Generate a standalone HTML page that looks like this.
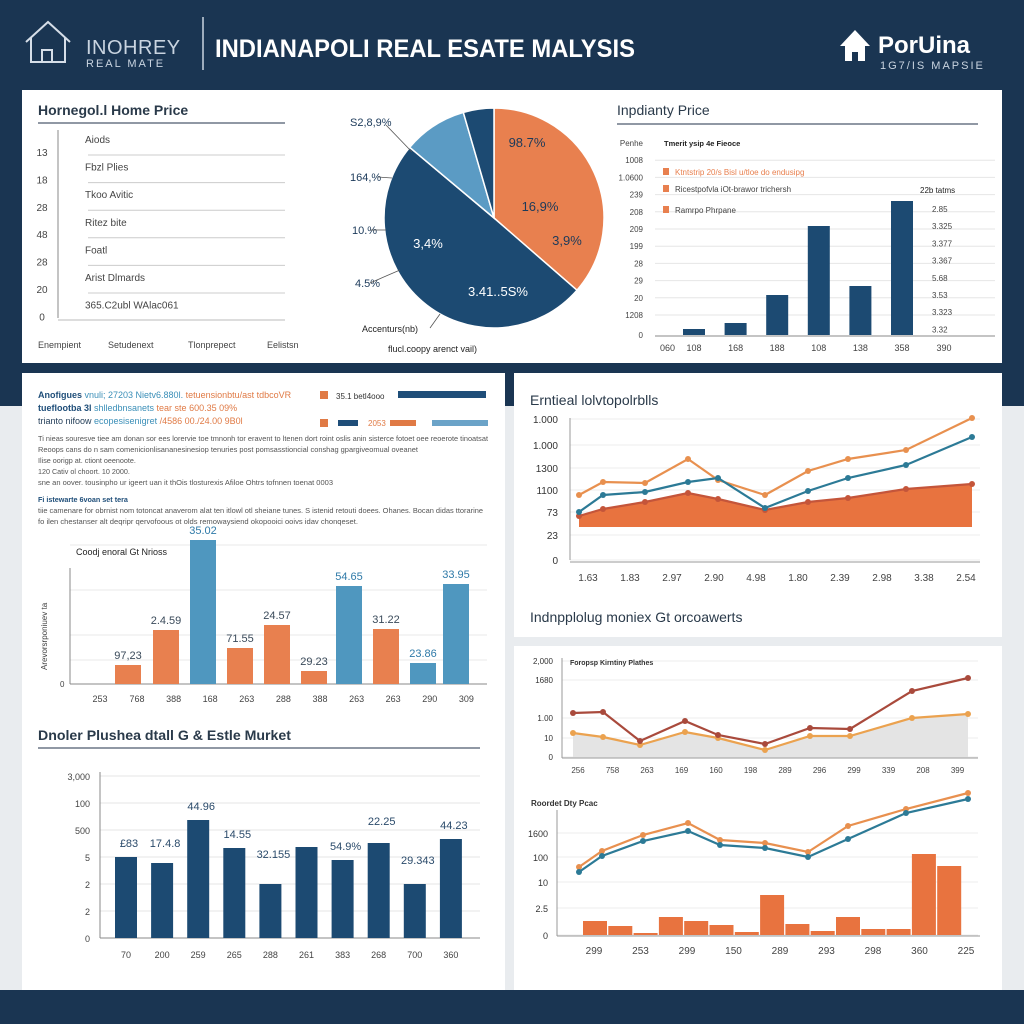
<!DOCTYPE html>
<html><head><meta charset="utf-8"><style>
html,body{margin:0;padding:0;width:1024px;height:1024px;overflow:hidden;background:#e9ecef;font-family:"Liberation Sans",sans-serif}
svg text{font-family:"Liberation Sans",sans-serif}
</style></head><body>
<svg id="s" width="1024" height="1024" viewBox="0 0 1024 1024" xmlns="http://www.w3.org/2000/svg">
<rect x="0" y="0" width="1024" height="1024" fill="#e9ecef"/>
<rect x="0" y="0" width="1024" height="406" fill="#1a3552"/>
<rect x="0" y="990" width="1024" height="34" fill="#1a3552"/>
<g fill="none" stroke="#d6dee8" stroke-width="2">
<path d="M26 42 L48 22 L70 42 M31 38 V62 H65 V38 M42 62 V50 H52 V62"/>
</g>
<text x="86" y="54" font-size="20" fill="#c9d4e0" letter-spacing="0.5">INOHREY</text>
<text x="86" y="67" font-size="11" fill="#c9d4e0" letter-spacing="2">REAL MATE</text>
<line x1="203" y1="17" x2="203" y2="70" stroke="#c9d4e0" stroke-width="1.5"/>
<text x="215" y="57" font-size="25" font-weight="bold" fill="#ffffff" textLength="420" lengthAdjust="spacingAndGlyphs">INDIANAPOLI REAL ESATE MALYSIS</text>
<g fill="#ffffff"><path d="M840 46 L855 30 L870 46 H865 V61 H858 V52 H852 V61 H845 V46Z"/></g>
<text x="878" y="53" font-size="24" font-weight="bold" fill="#ffffff">PorUina</text>
<text x="880" y="69" font-size="11" fill="#c9d4e0" letter-spacing="2">1G7/IS MAPSIE</text>

<rect x="22" y="90" width="980" height="273" fill="#ffffff"/>
<rect x="22" y="373" width="483" height="617" fill="#ffffff"/>
<rect x="514" y="373" width="488" height="264" fill="#ffffff"/>
<rect x="514" y="646" width="488" height="344" fill="#ffffff"/>

<text x="38" y="115" font-size="14" font-weight="bold" fill="#2a3a4a">Hornegol.l Home Price</text>
<line x1="38" y1="123" x2="285" y2="123" stroke="#6b7785" stroke-width="1.5"/>
<line x1="58" y1="130" x2="58" y2="318" stroke="#888"/>
<g id="tbl"></g>

<g id="pie"></g>

<text x="617" y="115" font-size="14" fill="#2a3a4a">Inpdianty Price</text>
<line x1="617" y1="124" x2="978" y2="124" stroke="#6b7785" stroke-width="1.5"/>
<g id="chartA"></g>

<g font-size="9">
<text x="38" y="398" fill="#1f4e79"><tspan font-weight="bold">Anofigues</tspan><tspan fill="#3b8fb8"> vnuli; 27203 Nietv6.880l.</tspan><tspan fill="#e07a45"> tetuensionbtu/ast tdbcoVR</tspan></text>
<text x="38" y="411" fill="#1f4e79"><tspan font-weight="bold">tueflootba 3l</tspan><tspan fill="#3b8fb8"> shlledbnsanets</tspan><tspan fill="#e07a45"> tear ste 600.35 09%</tspan></text>
<text x="38" y="424" fill="#1f3a55">trianto nifoow<tspan fill="#3b8fb8"> ecopesisenigret</tspan><tspan fill="#e07a45"> /4586 00./24.00 9B0l</tspan></text>
<rect x="320" y="391" width="8" height="8" fill="#e07a45"/><text x="336" y="399" font-size="8" fill="#333">35.1 betl4ooo</text>
<rect x="398" y="391" width="88" height="7" fill="#1f4e79"/>
<rect x="320" y="419" width="8" height="8" fill="#e07a45"/><rect x="338" y="420" width="20" height="6" fill="#1f4e79"/>
<text x="368" y="426" font-size="8" fill="#e07a45">2053</text><rect x="390" y="420" width="26" height="6" fill="#e07a45"/>
<rect x="432" y="420" width="56" height="6" fill="#6ba3c8"/>
<g fill="#555" font-size="7.2">
<text x="38" y="441" textLength="450" lengthAdjust="spacingAndGlyphs">Ti nieas souresve tiee am donan sor ees lorervie toe tmnonh tor eravent to ltenen dort roint oslis anin sisterce fotoet oee reoerote tinoatsat</text>
<text x="38" y="452" textLength="380" lengthAdjust="spacingAndGlyphs">Reoops cans do n sam comenicionlisananesinesiop tenuries post pomsasstioncial conshag gpargiveomual oveanet</text>
<text x="38" y="463">Ilise oorigp at. ctiont oeenoote.</text>
<text x="38" y="474">120 Cativ ol choort. 10 2000.</text>
<text x="38" y="485" textLength="295" lengthAdjust="spacingAndGlyphs">sne an oover. tousinpho ur igeert uan it thOis tlosturexis Afiloe Ohtrs tofnnen toenat 0003</text>
<text x="38" y="502" font-weight="bold" fill="#1f4e79">Fi istewarte 6voan set tera</text>
<text x="38" y="513" textLength="445" lengthAdjust="spacingAndGlyphs">tiie camenare for obrnist nom totoncat anaverom alat ten itlowl otl sheiane tunes. S istenid retouti doees. Ohanes. Bocan didas ttorarine</text>
<text x="38" y="524" textLength="320" lengthAdjust="spacingAndGlyphs">fo ilen chestanser alt deqripr qervofoous ot olds remowaysiend okopooici ooivs idav chonqeset.</text>
</g>
</g>
<g id="chartB"></g>

<text x="38" y="740" font-size="14" font-weight="bold" fill="#2a3a4a" textLength="253" lengthAdjust="spacingAndGlyphs">Dnoler Plushea dtall G &amp; Estle Murket</text>
<line x1="38" y1="748" x2="480" y2="748" stroke="#6b7785" stroke-width="1.5"/>
<g id="chartC"></g>

<text x="530" y="405" font-size="14" fill="#2a3a4a">Erntieal lolvtopolrblls</text>
<g id="chartD"></g>
<text x="530" y="622" font-size="14" fill="#2a3a4a">Indnpplolug moniex Gt orcoawerts</text>
<g id="chartE"></g>
<text x="531" y="806" font-size="8" font-weight="bold" fill="#333">Roordet Dty Pcac</text>
<g id="chartF"></g>
</svg>
<script>
const tableLabels = ["Aiods","Fbzl Plies","Tkoo Avitic","Ritez bite","Foatl","Arist Dlmards","365.C2ubl WAlac061"];
const tableTicks = ["13","18","28","48","28","20","0"];
const tableFooter = ["Enempient","Setudenext","Tlonprepect","Eelistsn"];

const pieValues = [36.4, 49.7, 9.4, 4.5];
const pieColors = ["#e8804f","#1c4a72","#5b9bc4","#1c4a72"];
const pieInLabels = ["98.7%","16,9%","3,9%","3,4%","3.41..5S%"];
const pieOutLabels = ["S2,8,9%","164,%","10.%","4.5%"];

const aCats = ["108","168","188","108","138","358"];
const aValues = [6, 12, 40, 109, 49, 134];
const aLeftTicks = ["Penhe","1008","1.0600","239","208","209","199","28","29","20","1208","0"];
const aRightTicks = ["2.85","3.325","3.377","3.367","5.68","3.53","3.323","3.32"];
const aLegend = ["Ktntstrip 20/s Bisl u/tloe do endusipg","Ricestpofvla iOt-brawor trichersh","Ramrpo Phrpane"];

const bCats = ["768","388","168","263","288","388","263","263","290","309"];
const bValues = [19, 54, 144, 36, 59, 13, 98, 55, 21, 100];
const bSeries = ["o","o","b","o","o","o","b","o","b","b"];
const bLabels = ["97,23","2.4.59","35.02","71.55","24.57","29.23","54.65","31.22","23.86","33.95"];

const cCats = ["70","200","259","265","288","261","383","268","700","360"];
const cValues = [81, 75, 118, 90, 54, 91, 78, 95, 54, 99];
const cLabels = ["£83","17.4.8","44.96","14.55","32.155","","54.9%","22.25","29.343","44.23"];
const cTicks = ["3,000","100","500","5","2","2","0"];

const dCats = ["1.63","1.83","2.97","2.90","4.98","1.80","2.39","2.98","3.38","2.54"];
const dOrange = [63, 76, 75, 99, 78, 63, 87, 99, 108, 140];
const dBlue = [46, 63, 66, 76, 80, 50, 67, 80, 93, 121];
const dRed = [42, 49, 56, 65, 59, 48, 56, 60, 69, 74];
const dTicks = ["1.000","1.000","1300","1100","73","23","0"];

const eCats = ["256","758","263","169","160","198","289","296","299","339","208","399"];
const eRed = [44, 45, 16, 36, 22, 13, 29, 28, 66, 79];
const eOrange = [24, 20, 12, 25, 19, 7, 21, 21, 39, 43];
const eTicks = ["2,000","1680","1.00","10","0"];

const fCats = ["299","253","299","150","289","293","298","360","225"];
const fOrange = [68, 84, 100, 112, 95, 92, 83, 109, 126, 142];
const fBlue = [63, 79, 94, 104, 90, 87, 78, 96, 122, 136];
const fBars = [14, 9, 2, 18, 14, 10, 3, 40, 11, 4, 18, 6, 6, 81, 69];
const fTicks = ["1600","100","10","2.5","0"];

const NS = "http://www.w3.org/2000/svg";
function mk(parent, tag, attrs, txt){
  const e = document.createElementNS(NS, tag);
  for (const k in attrs) e.setAttribute(k, attrs[k]);
  if (txt !== undefined) e.textContent = txt;
  parent.appendChild(e);
  return e;
}
const OR = "#e8804f", NV = "#1c4a72", LB = "#4f97bf";

(function(){
  const g = document.getElementById("tbl");
  tableLabels.forEach((t,i)=>{
    const y = 143 + i*27.6;
    const el = mk(g,"text",{x:85,y:y,"font-size":10,fill:"#444"},t);
    
    
    if (i < 6) {
      const ln = mk(g,"line",{x1:88,y1:y+12,x2:285,y2:y+12,stroke:"#ccc"});
      
      
    }
  });
  tableTicks.forEach((t,i)=>{
    const el = mk(g,"text",{x:42,y:156+i*27.4,"font-size":10,fill:"#444","text-anchor":"middle"},t);
    
    
  });
  const bl = mk(g,"line",{x1:58,y1:320,x2:285,y2:320,stroke:"#bbb"});
  
  
  tableFooter.forEach((t,i)=>{
    const el = mk(g,"text",{x:[38,108,188,267][i],y:348,"font-size":9,fill:"#444"},t);
    
    
  });
})();

(function(){
  const g = document.getElementById("pie");
  const cx=494, cy=218, r=110;
  const tot = pieValues.reduce((a,b)=>a+b,0);
  let a0 = 0;
  pieValues.forEach((v,i)=>{
    const a1 = a0 + v/tot*2*Math.PI;
    const x0 = cx + r*Math.sin(a0), y0 = cy - r*Math.cos(a0);
    const x1 = cx + r*Math.sin(a1), y1 = cy - r*Math.cos(a1);
    const large = (a1-a0) > Math.PI ? 1 : 0;
    const p = mk(g,"path",{d:`M${cx},${cy} L${x0},${y0} A${r},${r} 0 ${large} 1 ${x1},${y1} Z`,fill:pieColors[i],stroke:"#fff","stroke-width":1.5});
    
    
    a0 = a1;
  });
  const inPos = [[527,147,"#1c3a5a"],[540,211,"#1c3a5a"],[567,245,"#1c3a5a"],[428,248,"#fff"],[498,296,"#fff"]];
  pieInLabels.forEach((t,i)=>{
    const el = mk(g,"text",{x:inPos[i][0],y:inPos[i][1],"font-size":13,fill:inPos[i][2],"text-anchor":"middle"},t);
    
    
  });
  const outPos = [[350,126],[350,181],[352,234],[355,287]];
  pieOutLabels.forEach((t,i)=>{
    const el = mk(g,"text",{x:outPos[i][0],y:outPos[i][1],"font-size":11,fill:"#1c3a5a"},t);
    
    
  });
  [[386,125,412,152],[378,177,392,178],[370,230,386,230],[370,283,400,270],[430,328,440,314]].forEach(l=>{
    const ln = mk(g,"line",{x1:l[0],y1:l[1],x2:l[2],y2:l[3],stroke:"#555","stroke-width":0.8});
    
    
  });
  const a = mk(g,"text",{x:362,y:332,"font-size":9,fill:"#222"},"Accenturs(nb)");
  
  
  const b = mk(g,"text",{x:388,y:352,"font-size":9,fill:"#222"},"flucl.coopy arenct vail)");
  
  
})();

(function(){
  const g = document.getElementById("chartA");
  const base = 335, yS = v => base - v*1.0;
  aLeftTicks.forEach((t,i)=>{
    const y = 146 + i*17.2 + (i==11?3:0);
    const el = mk(g,"text",{x:643,y:y,"font-size":8,fill:"#444","text-anchor":"end"},t);
    
    
    if (i>0 && i<11){
      const ln = mk(g,"line",{x1:655,y1:y-3,x2:995,y2:y-3,stroke:"#e6e6e6"});
      
      
    }
  });
  const ax = mk(g,"line",{x1:655,y1:336,x2:995,y2:336,stroke:"#888"});
  
  
  const xS = i => 683 + i*41.6;
  aValues.forEach((v,i)=>{
    const r = mk(g,"rect",{x:xS(i),y:yS(v),width:22,height:base-yS(v),fill:NV});
    
    
  });
  const f = mk(g,"text",{x:660,y:351,"font-size":9,fill:"#444"},"060");
  
  
  aCats.forEach((t,i)=>{
    const el = mk(g,"text",{x:xS(i)+11,y:351,"font-size":9,fill:"#444","text-anchor":"middle"},t);
    
    
  });
  const l = mk(g,"text",{x:944,y:351,"font-size":9,fill:"#444","text-anchor":"middle"},"390");
  
  
  const rt = mk(g,"text",{x:920,y:193,"font-size":8,fill:"#222"},"22b tatms");
  
  
  aRightTicks.forEach((t,i)=>{
    const el = mk(g,"text",{x:932,y:212+i*17.2,"font-size":8,fill:"#444"},t);
    
    
  });
  const lt = mk(g,"text",{x:664,y:146,"font-size":7.5,"font-weight":"bold",fill:"#222"},"Tmerit ysip 4e Fieoce");
  
  
  aLegend.forEach((t,i)=>{
    const y = [175,192,213][i];
    const sq = mk(g,"rect",{x:663,y:y-7,width:6,height:7,fill:OR});
    
    
    const el = mk(g,"text",{x:675,y:y,"font-size":8,fill:i==0?OR:"#444"},t);
    
    
  });
})();

(function(){
  const g = document.getElementById("chartB");
  const base = 684, yS = v => base - v;
  [545,590,635,660].forEach(y=>{
    const ln = mk(g,"line",{x1:70,y1:y,x2:487,y2:y,stroke:"#e8e8e8"});
    
    
  });
  const ax = mk(g,"line",{x1:70,y1:568,x2:70,y2:684,stroke:"#888"});
  
  
  const xa = mk(g,"line",{x1:70,y1:684,x2:487,y2:684,stroke:"#888"});
  
  
  const z = mk(g,"text",{x:60,y:687,"font-size":8,fill:"#444"},"0");
  
  
  const yt = mk(g,"text",{x:0,y:0,"font-size":8,fill:"#444",transform:"translate(47,670) rotate(-90)"},"Arevorsrponiuev ta");
  
  
  const tt = mk(g,"text",{x:76,y:555,"font-size":9,fill:"#222"},"Coodj enoral Gt Nrioss");
  
  
  const xs = [115,153,190,227,264,301,336,373,410,443];
  bValues.forEach((v,i)=>{
    const x = xs[i];
    const r = mk(g,"rect",{x:x,y:yS(v),width:26,height:v,fill:bSeries[i]==="o"?OR:LB});
    
    
    const lab = mk(g,"text",{x:x+13,y:yS(v)-6,"font-size":11,fill:bSeries[i]==="o"?"#3a4a5a":"#2f7aa8","text-anchor":"middle"},bLabels[i]);
    
    
  });
  const f = mk(g,"text",{x:100,y:702,"font-size":9,fill:"#444","text-anchor":"middle"},"253");
  
  
  bCats.forEach((t,i)=>{
    const el = mk(g,"text",{x:137+i*36.6,y:702,"font-size":9,fill:"#444","text-anchor":"middle"},t);
    
    
  });
})();

(function(){
  const g = document.getElementById("chartC");
  const base = 938, yS = v => base - v;
  cTicks.forEach((t,i)=>{
    const y = 776 + i*27;
    const el = mk(g,"text",{x:90,y:y+4,"font-size":9,fill:"#444","text-anchor":"end"},t);
    
    
    const ln = mk(g,"line",{x1:100,y1:y,x2:480,y2:y,stroke:i==6?"#888":"#e6e6e6"});
    
    
  });
  const ax = mk(g,"line",{x1:100,y1:772,x2:100,y2:938,stroke:"#888"});
  
  
  const xS = i => 115 + i*36.1;
  const lblOff = [10,16,10,10,26,0,10,18,20,10];
  cValues.forEach((v,i)=>{
    const r = mk(g,"rect",{x:xS(i),y:yS(v),width:22,height:v,fill:NV});
    
    
    if (cLabels[i]) {
      const lab = mk(g,"text",{x:xS(i)+14,y:yS(v)-lblOff[i],"font-size":11,fill:"#2a4a6a","text-anchor":"middle"},cLabels[i]);
      
      
    }
    const el = mk(g,"text",{x:xS(i)+11,y:958,"font-size":9,fill:"#444","text-anchor":"middle"},cCats[i]);
    
    
  });
})();

function poly(g, xs, ys, color, name, marker){
  const pts = xs.map((x,i)=>x+","+ys[i]).join(" ");
  const pl = mk(g,"polyline",{points:pts,fill:"none",stroke:color,"stroke-width":2.2});
  
  
  if (marker) xs.forEach((x,i)=>{
    const c = mk(g,"circle",{cx:x,cy:ys[i],r:3,fill:color});
    
    
  });
}

(function(){
  const g = document.getElementById("chartD");
  const base = 558, yS = v => base - v;
  const xs = [579,603,645,688,718,765,808,848,906,972];
  dTicks.forEach((t,i)=>{
    const y = [419,445,468,490,512,535,560][i];
    const el = mk(g,"text",{x:558,y:y+4,"font-size":10,fill:"#333","text-anchor":"end"},t);
    
    
    const ln = mk(g,"line",{x1:570,y1:y,x2:980,y2:y,stroke:"#ececec"});
    
    
  });
  const ax = mk(g,"line",{x1:570,y1:418,x2:570,y2:560,stroke:"#999"});
  
  
  const xa = mk(g,"line",{x1:570,y1:562,x2:980,y2:562,stroke:"#999"});
  
  
  const area = "M"+xs[0]+",527 " + xs.map((x,i)=>"L"+x+","+yS(dRed[i])).join(" ") + " L"+xs[9]+",527 Z";
  const ar = mk(g,"path",{d:area,fill:"#e8733f"});
  
  
  poly(g, xs, dRed.map(yS), "#c4553a", "trend-red-line", true);
  poly(g, xs, dOrange.map(yS), "#e8904f", "trend-orange-line", true);
  poly(g, xs, dBlue.map(yS), "#2c7a96", "trend-blue-line", true);
  dCats.forEach((t,i)=>{
    const el = mk(g,"text",{x:588+i*42,y:581,"font-size":10,fill:"#444","text-anchor":"middle"},t);
    
    
  });
})();

(function(){
  const g = document.getElementById("chartE");
  const base = 757, yS = v => base - v;
  const xs = [573,603,640,685,718,765,810,850,912,968];
  eTicks.forEach((t,i)=>{
    const y = [661,680,718,738,757][i];
    const el = mk(g,"text",{x:553,y:y+3,"font-size":8,fill:"#333","text-anchor":"end"},t);
    
    
    const ln = mk(g,"line",{x1:562,y1:y,x2:978,y2:y,stroke:"#ececec"});
    
    
  });
  const ax = mk(g,"line",{x1:562,y1:658,x2:562,y2:758,stroke:"#999"});
  
  
  const xa = mk(g,"line",{x1:562,y1:758,x2:978,y2:758,stroke:"#999"});
  
  
  const tt = mk(g,"text",{x:570,y:665,"font-size":7,"font-weight":"bold",fill:"#333"},"Foropsp Kirntiny Plathes");
  
  
  const area = "M"+xs[0]+",757 " + xs.map((x,i)=>"L"+x+","+yS(eOrange[i])).join(" ") + " L"+xs[9]+",757 Z";
  const ar = mk(g,"path",{d:area,fill:"#e4e4e4"});
  
  
  poly(g, xs, eOrange.map(yS), "#eba24f", "moniex-orange-line", true);
  poly(g, xs, eRed.map(yS), "#a94a3c", "moniex-red-line", true);
  eCats.forEach((t,i)=>{
    const el = mk(g,"text",{x:578+i*34.5,y:773,"font-size":8,fill:"#444","text-anchor":"middle"},t);
    
    
  });
})();

(function(){
  const g = document.getElementById("chartF");
  const base = 935, yS = v => base - v;
  const xs = [579,602,643,688,720,765,808,848,906,968];
  fTicks.forEach((t,i)=>{
    const y = [833,857,882,908,935][i];
    const el = mk(g,"text",{x:548,y:y+4,"font-size":9,fill:"#333","text-anchor":"end"},t);
    
    
    const ln = mk(g,"line",{x1:557,y1:y,x2:978,y2:y,stroke:"#ececec"});
    
    
  });
  const ax = mk(g,"line",{x1:557,y1:810,x2:557,y2:936,stroke:"#999"});
  
  
  const xa = mk(g,"line",{x1:557,y1:936,x2:980,y2:936,stroke:"#999"});
  
  
  fBars.forEach((v,i)=>{
    const r = mk(g,"rect",{x:583+i*25.3,y:yS(v),width:24,height:v,fill:"#e8733f"});
    
    
  });
  poly(g, xs, fOrange.map(yS), "#e8904f", "pcac-orange-line", true);
  poly(g, xs, fBlue.map(yS), "#2c7a96", "pcac-blue-line", true);
  fCats.forEach((t,i)=>{
    const el = mk(g,"text",{x:594+i*46.5,y:954,"font-size":10,fill:"#444","text-anchor":"middle"},t);
    
    
  });
})();
</script>
</body></html>
